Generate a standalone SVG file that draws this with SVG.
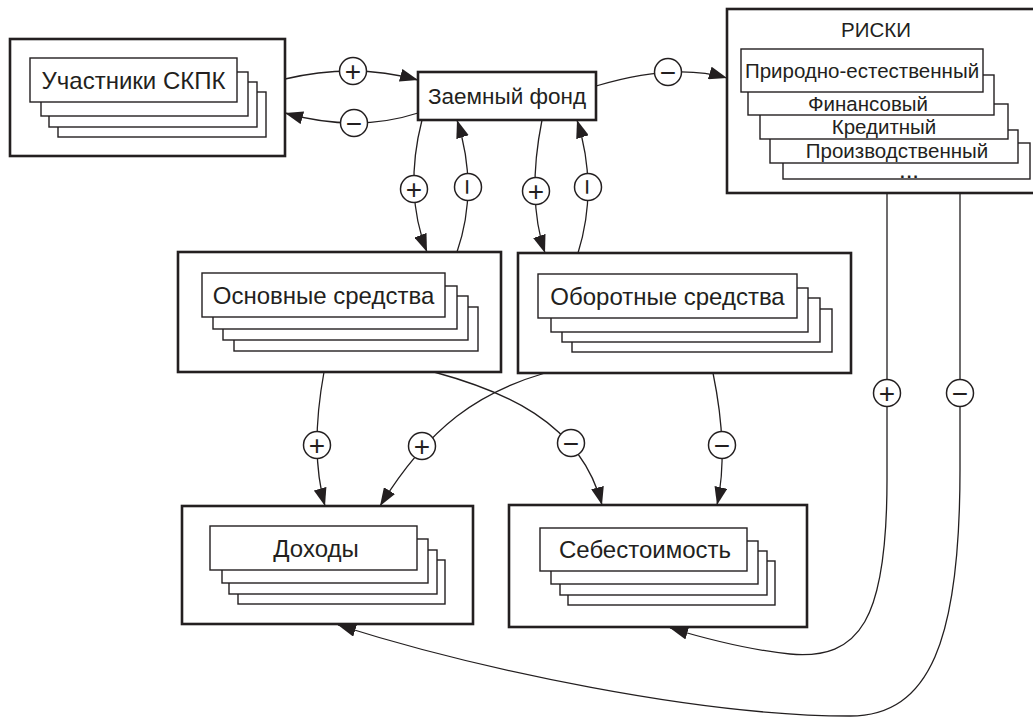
<svg xmlns="http://www.w3.org/2000/svg" width="1033" height="717" viewBox="0 0 1033 717">
  <style>
    .outer { fill: #fff; stroke: #231f20; stroke-width: 2.6; }
    .card { fill: #fff; stroke: #231f20; stroke-width: 1.4; }
    .lbl { font-family: "Liberation Sans", Arial, sans-serif; font-size: 24px; fill: #231f20; text-anchor: middle; }
    .risk { font-family: "Liberation Sans", Arial, sans-serif; font-size: 20.5px; fill: #231f20; text-anchor: middle; }
    .dots { font-family: "Liberation Sans", Arial, sans-serif; font-size: 17px; font-weight: bold; fill: #231f20; text-anchor: middle; letter-spacing: 2px; }
    .link { fill: none; stroke: #231f20; stroke-width: 1.3; }
    .sign circle { fill: #fff; stroke: #231f20; stroke-width: 1.5; }
    .sign text { font-family: "Liberation Sans", Arial, sans-serif; font-size: 28px; fill: #231f20; text-anchor: middle; }
  </style>
  <defs>
    <marker id="arr" markerUnits="userSpaceOnUse" markerWidth="19" markerHeight="13" refX="18" refY="6.5" orient="auto">
      <path d="M0,0 L18,6.5 L0,13 z" fill="#231f20"/>
    </marker>
  </defs>

  <rect width="1033" height="717" fill="#fff"/>

  <!-- Участники СКПК -->
  <g id="members">
    <rect class="outer" x="10" y="39" width="275" height="117"/>
    <rect class="card" x="58" y="92" width="208" height="45"/>
    <rect class="card" x="49" y="82" width="208" height="45"/>
    <rect class="card" x="41" y="72" width="207" height="44"/>
    <rect class="card" x="30" y="58" width="207" height="44"/>
    <text class="lbl" x="133.5" y="88.5">Участники СКПК</text>
  </g>

  <!-- Заемный фонд -->
  <g id="loan-fund">
    <rect class="outer" x="418" y="72" width="178" height="48"/>
    <text class="lbl" x="507" y="104" style="font-size:22.5px">Заемный фонд</text>
  </g>

  <!-- РИСКИ -->
  <g id="risks">
    <rect class="outer" x="727" y="9" width="313" height="184"/>
    <text class="risk" x="876" y="37">РИСКИ</text>
    <rect class="card" x="783" y="143" width="247" height="36"/>
    <text class="dots" x="910" y="177.5">...</text>
    <rect class="card" x="770" y="130" width="248" height="33"/>
    <text class="risk" x="897" y="157.5">Производственный</text>
    <rect class="card" x="760" y="104" width="248" height="35"/>
    <text class="risk" x="884" y="134">Кредитный</text>
    <rect class="card" x="748" y="75" width="246" height="40"/>
    <text class="risk" x="868" y="110.5">Финансовый</text>
    <rect class="card" x="741" y="49" width="242" height="43"/>
    <text class="risk" x="862" y="78">Природно-естественный</text>
  </g>

  <!-- Основные средства -->
  <g id="fixed-assets">
    <rect class="outer" x="178" y="252" width="323" height="120"/>
    <rect class="card" x="234" y="307" width="244" height="44"/>
    <rect class="card" x="223" y="296" width="245" height="44"/>
    <rect class="card" x="213" y="286" width="244" height="43"/>
    <rect class="card" x="202" y="273" width="243" height="44"/>
    <text class="lbl" x="323.5" y="303.5">Основные средства</text>
  </g>

  <!-- Оборотные средства -->
  <g id="working-assets">
    <rect class="outer" x="518" y="253" width="333" height="120"/>
    <rect class="card" x="572" y="309" width="260" height="43"/>
    <rect class="card" x="562" y="298" width="258" height="44"/>
    <rect class="card" x="551" y="288" width="257" height="44"/>
    <rect class="card" x="538" y="274" width="259" height="44"/>
    <text class="lbl" x="667.5" y="304.5">Оборотные средства</text>
  </g>

  <!-- Доходы -->
  <g id="income">
    <rect class="outer" x="182" y="506" width="291" height="118"/>
    <rect class="card" x="238" y="560" width="207" height="44"/>
    <rect class="card" x="229" y="550" width="208" height="44"/>
    <rect class="card" x="222" y="539" width="206" height="44"/>
    <rect class="card" x="210" y="526" width="207" height="44"/>
    <text class="lbl" x="316" y="556.5">Доходы</text>
  </g>

  <!-- Себестоимость -->
  <g id="cost">
    <rect class="outer" x="509" y="505" width="298" height="122"/>
    <rect class="card" x="568" y="561" width="207" height="44"/>
    <rect class="card" x="560" y="551" width="207" height="44"/>
    <rect class="card" x="551" y="541" width="207" height="43"/>
    <rect class="card" x="540" y="528" width="207" height="43"/>
    <text class="lbl" x="645" y="558">Себестоимость</text>
  </g>

  <!-- Связи -->
  <g id="connectors">
    <path class="link" marker-end="url(#arr)" d="M285,79 Q354.5,62.5 418,80"/>
    <path class="link" marker-end="url(#arr)" d="M418,113 Q356.5,133 285,113"/>
    <path class="link" marker-end="url(#arr)" d="M596,86 Q674.5,62.5 727,78"/>
    <path class="link" marker-end="url(#arr)" d="M422,120 Q403.5,192 427,252"/>
    <path class="link" marker-end="url(#arr)" d="M457,252 Q479,188 457,120"/>
    <path class="link" marker-end="url(#arr)" d="M542,120 Q526.5,197.5 545,253"/>
    <path class="link" marker-end="url(#arr)" d="M578,253 Q598.5,187.5 577,120"/>
    <path class="link" marker-end="url(#arr)" d="M324,372 Q309.5,451 325,506"/>
    <path class="link" marker-end="url(#arr)" d="M545,373 C480,392 430,425 380,506"/>
    <path class="link" marker-end="url(#arr)" d="M434,372 C500,390 580,420 602,505"/>
    <path class="link" marker-end="url(#arr)" d="M713,373 Q729,451 717,505"/>
    <path class="link" marker-end="url(#arr)" d="M887,193 L887,480 C887,620 860,660 790,654 C750,650 710,640 670,628"/>
    <path class="link" marker-end="url(#arr)" d="M960,193 L960,470 C960,640 930,716 850,716 C700,716 480,670 338,625"/>

    <g class="sign"><circle cx="353" cy="71" r="13.5"/><text x="353" y="80.9">+</text></g>
    <g class="sign"><circle cx="354" cy="123" r="13.5"/><text x="354" y="132.9">−</text></g>
    <g class="sign"><circle cx="668" cy="72" r="13.5"/><text x="668" y="81.9">−</text></g>
    <g class="sign"><circle cx="414" cy="189" r="13.5"/><text x="414" y="198.9">+</text></g>
    <g class="sign"><circle cx="468" cy="187" r="13.5"/><text x="468" y="196.9" transform="rotate(90 468 187)">−</text></g>
    <g class="sign"><circle cx="536" cy="191" r="13.5"/><text x="536" y="200.9">+</text></g>
    <g class="sign"><circle cx="588" cy="187" r="13.5"/><text x="588" y="196.9" transform="rotate(90 588 187)">−</text></g>
    <g class="sign"><circle cx="317" cy="445" r="13.5"/><text x="317" y="454.9">+</text></g>
    <g class="sign"><circle cx="422" cy="446" r="13.5"/><text x="422" y="455.9">+</text></g>
    <g class="sign"><circle cx="571" cy="443" r="13.5"/><text x="571" y="452.9">−</text></g>
    <g class="sign"><circle cx="722" cy="445" r="13.5"/><text x="722" y="454.9">−</text></g>
    <g class="sign"><circle cx="887" cy="393" r="13.5"/><text x="887" y="402.9">+</text></g>
    <g class="sign"><circle cx="960" cy="393" r="13.5"/><text x="960" y="402.9">−</text></g>
  </g>
</svg>
